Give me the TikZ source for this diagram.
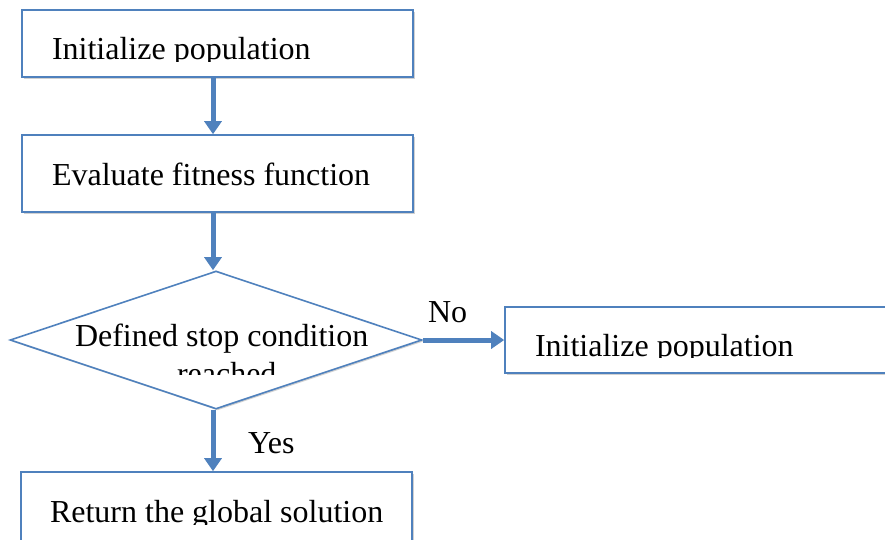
\documentclass[tikz,border=0pt]{standalone}
\usepackage{fontspec}
\setmainfont{Liberation Serif}
\usetikzlibrary{arrows.meta,shapes.geometric,shadows}
\definecolor{offblue}{HTML}{4F81BD}
\begin{document}
\begin{tikzpicture}[x=1pt,y=-1pt,
  boxshape/.style={draw=offblue,line width=1.6pt,fill=white,inner sep=0pt,
    drop shadow={shadow xshift=1.5pt,shadow yshift=-1.5pt,opacity=0.18,fill=black}},
  flowarrow/.style={draw=offblue,line width=5pt,
    -{Triangle[length=13pt,width=17pt]}},
  txt/.style={anchor=base west,inner sep=0pt,outer sep=0pt,
    font=\fontsize{32}{38}\selectfont}]
\clip (0,0) rectangle (885,539);
\fill[white] (0,0) rectangle (885,539);
% shapes
\node[boxshape,minimum width=391pt,minimum height=67pt] (b1) at (217.5,43.5) {};
\node[boxshape,minimum width=391pt,minimum height=77pt] (b2) at (217.5,173.5) {};
\node[boxshape,diamond,minimum width=412pt,minimum height=138pt] (dia) at (216,340) {};
\node[boxshape,minimum width=420pt,minimum height=66pt] (b3) at (715,340) {};
\node[boxshape,minimum width=391pt,minimum height=100pt] (b4) at (216.5,522) {};
% texts (clipped like the original text boxes)
\begin{scope}
  \clip (22,10) rectangle (413,61);
  \node[txt] (t1) at (52,59) {Initialize population};
\end{scope}
\node[txt] (t2) at (52,185) {Evaluate fitness function};
\node[txt] (t3) at (75,346) {Defined stop condition};
\begin{scope}
  \clip (100,355) rectangle (330,374);
  \node[txt] (t4) at (177,384) {reached};
\end{scope}
\begin{scope}
  \clip (505,307) rectangle (885,357.5);
  \node[txt] (t5) at (535,356) {Initialize population};
\end{scope}
\begin{scope}
  \clip (21,472) rectangle (412,524);
  \node[txt] (t6) at (50,522) {Return the global solution};
\end{scope}
\node[txt] (no) at (428,322) {No};
\node[txt] (yes) at (248,453) {Yes};
% connectors
\draw[flowarrow] ([xshift=-4.5pt]b1.south) -- ([xshift=-4.5pt]b2.north);
\draw[flowarrow] ([xshift=-4.5pt]b2.south) -- ([xshift=-3pt]dia.north);
\draw[flowarrow] ([xshift=-3pt]dia.south) -- ([xshift=-3.5pt]b4.north);
\draw[flowarrow] (dia.east) -- (b3.west);
\end{tikzpicture}
\end{document}
